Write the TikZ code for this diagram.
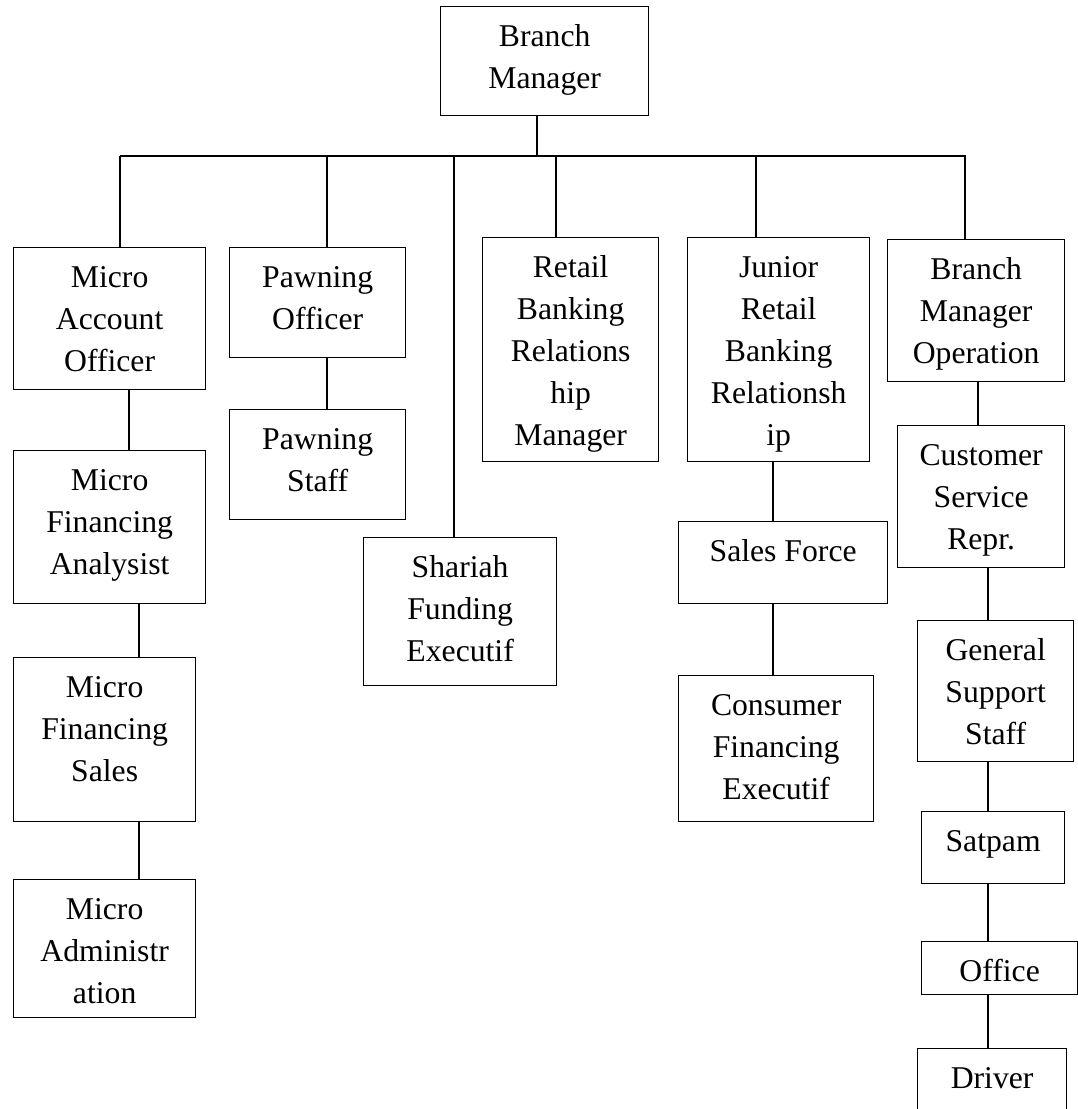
\documentclass[tikz,border=0pt]{standalone}
\usepackage{fontspec}
\setmainfont{Liberation Serif}
\tikzset{
  orgbox/.style={draw=black, line width=1.3pt, rectangle, inner sep=0pt, anchor=north west},
  orgtxt/.style={inner sep=0pt, anchor=north, align=center, font=\fontsize{31.7}{42}\selectfont},
  link/.style={draw=black, line width=1.3pt}
}
\newcommand\orgboxnode[6]{%
  \node[orgbox, minimum width={(#4-#2)*1pt}, minimum height={(#5-#3)*1pt}] (#1) at (#2,#3) {};
  \node[orgtxt] (#1-t) at ([yshift=-10.6pt]#1.north) {\strut #6};
}
\begin{document}
\begin{tikzpicture}[x=1pt,y=-1pt]
\useasboundingbox (0,0) rectangle (1078,1109);
\clip (0,0) rectangle (1078,1109);
\fill[white] (0,0) rectangle (1078,1109);

\orgboxnode{bm}{440}{6}{648}{115}{Branch\\Manager}
\orgboxnode{mao}{13}{247}{205}{389}{Micro\\Account\\Officer}
\orgboxnode{mfa}{13}{450}{205}{603}{Micro\\Financing\\Analysist}
\orgboxnode{mfs}{13}{657}{195}{821}{Micro\\Financing\\Sales}
\orgboxnode{mad}{13}{879}{195}{1017}{Micro\\Administr\\ation}
\orgboxnode{po}{229}{247}{405}{357}{Pawning\\Officer}
\orgboxnode{ps}{229}{409}{405}{519}{Pawning\\Staff}
\orgboxnode{she}{363}{537}{556}{685}{Shariah\\Funding\\Executif}
\orgboxnode{rbm}{482}{237}{658}{461}{Retail\\Banking\\Relations\\hip\\Manager}
\orgboxnode{jr}{687}{237}{869}{461}{Junior\\Retail\\Banking\\Relationsh\\ip}
\orgboxnode{sf}{678}{521}{887}{603}{Sales Force}
\orgboxnode{cfe}{678}{675}{873}{821}{Consumer\\Financing\\Executif}
\orgboxnode{bmo}{887}{239}{1064}{381}{Branch\\Manager\\Operation}
\orgboxnode{csr}{897}{425}{1064}{567}{Customer\\Service\\Repr.}
\orgboxnode{gss}{917}{620}{1073}{761}{General\\Support\\Staff}
\orgboxnode{sat}{921}{811}{1064}{883}{Satpam}
\orgboxnode{off}{921}{941}{1077}{994}{Office}
\orgboxnode{drv}{917}{1048}{1066}{1130}{Driver}

\coordinate (busL) at (119.5,156);
\coordinate (busR) at (965.6,156);
\coordinate (xbm) at (537,0);
\coordinate (x1) at (120,0);
\coordinate (x2) at (129,0);
\coordinate (x3) at (139,0);
\coordinate (x4) at (327,0);
\coordinate (x5) at (454,0);
\coordinate (x6) at (556,0);
\coordinate (x7) at (756,0);
\coordinate (x8) at (773,0);
\coordinate (x9) at (965,0);
\coordinate (x10) at (978,0);
\coordinate (x11) at (988,0);

\draw[link] (xbm |- bm.south) -- (xbm |- busL);
\draw[link] (busL) -- (busR);
\draw[link] (x1 |- busL) -- (x1 |- mao.north);
\draw[link] (x2 |- mao.south) -- (x2 |- mfa.north);
\draw[link] (x3 |- mfa.south) -- (x3 |- mfs.north);
\draw[link] (x3 |- mfs.south) -- (x3 |- mad.north);
\draw[link] (x4 |- busL) -- (x4 |- po.north);
\draw[link] (x4 |- po.south) -- (x4 |- ps.north);
\draw[link] (x5 |- busL) -- (x5 |- she.north);
\draw[link] (x6 |- busL) -- (x6 |- rbm.north);
\draw[link] (x7 |- busL) -- (x7 |- jr.north);
\draw[link] (x8 |- jr.south) -- (x8 |- sf.north);
\draw[link] (x8 |- sf.south) -- (x8 |- cfe.north);
\draw[link] (x9 |- busR) -- (x9 |- bmo.north);
\draw[link] (x10 |- bmo.south) -- (x10 |- csr.north);
\draw[link] (x11 |- csr.south) -- (x11 |- gss.north);
\draw[link] (x11 |- gss.south) -- (x11 |- sat.north);
\draw[link] (x11 |- sat.south) -- (x11 |- off.north);
\draw[link] (x11 |- off.south) -- (x11 |- drv.north);
\end{tikzpicture}
\end{document}
